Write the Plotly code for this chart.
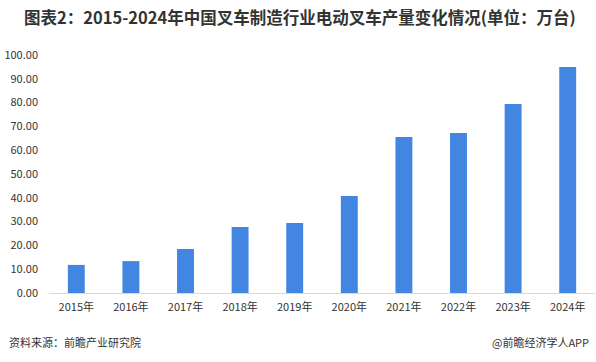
import plotly.graph_objects as go

years = ["2015年", "2016年", "2017年", "2018年", "2019年", "2020年", "2021年", "2022年", "2023年", "2024年"]
output = [11.8, 13.4, 18.5, 27.7, 29.4, 40.8, 65.5, 67.2, 79.4, 95.0]
y_ticks = [0, 10, 20, 30, 40, 50, 60, 70, 80, 90, 100]

title_text = "图表2：2015-2024年中国叉车制造行业电动叉车产量变化情况(单位：万台)"
source_text = "资料来源：前瞻产业研究院"
brand_text = "@前瞻经济学人APP"

FONT = "Noto Sans CJK SC, Microsoft YaHei, sans-serif"

W, H = 596, 362
l, r, t, b = 49, 1, 55, 69
pw, ph = W - l - r, H - t - b


def px_x(px):
    return (px - l) / pw


def px_y(py):
    return (H - b - py) / ph


fig = go.Figure()
fig.add_trace(go.Bar(
    x=years, y=output,
    marker=dict(color="#4286E2", line=dict(width=0)),
    hoverinfo="x+y",
))

fig.update_layout(
    width=W, height=H,
    margin=dict(l=l, r=r, t=t, b=b, autoexpand=False),
    paper_bgcolor="white", plot_bgcolor="white",
    bargap=0.69,
    showlegend=False,
    font=dict(family=FONT, size=11, color="#333333"),
    xaxis=dict(
        showgrid=False, showline=True, linecolor="#D9D9D9", linewidth=1,
        ticks="", tickfont=dict(size=11, color="#333333"),
        ticklabelstandoff=4, automargin=False,
    ),
    yaxis=dict(
        range=[0, 100], tickvals=y_ticks,
        ticktext=[f"{v:.2f}" for v in y_ticks],
        showgrid=False, zeroline=False, showline=False,
        ticks="", tickfont=dict(size=11, color="#333333"),
        ticklabelstandoff=10, automargin=False,
    ),
    annotations=[
        dict(text="<b>" + title_text + "</b>", x=px_x(22), y=px_y(17), xref="paper", yref="paper",
             showarrow=False, font=dict(size=16.5, color="#333333", family=FONT),
             xanchor="left", yanchor="middle"),
        dict(text=source_text, x=px_x(7), y=px_y(342), xref="paper", yref="paper",
             showarrow=False, font=dict(size=11, color="#333333", family=FONT),
             xanchor="left", yanchor="middle"),
        dict(text=brand_text, x=px_x(591), y=px_y(342), xref="paper", yref="paper",
             showarrow=False, font=dict(size=11, color="#333333", family=FONT),
             xanchor="right", yanchor="middle"),
    ],
)

fig.write_html(
    "out.html",
    config={"displayModeBar": False},
    post_script="document.body.style.margin='0';document.body.style.overflow='hidden';",
)
